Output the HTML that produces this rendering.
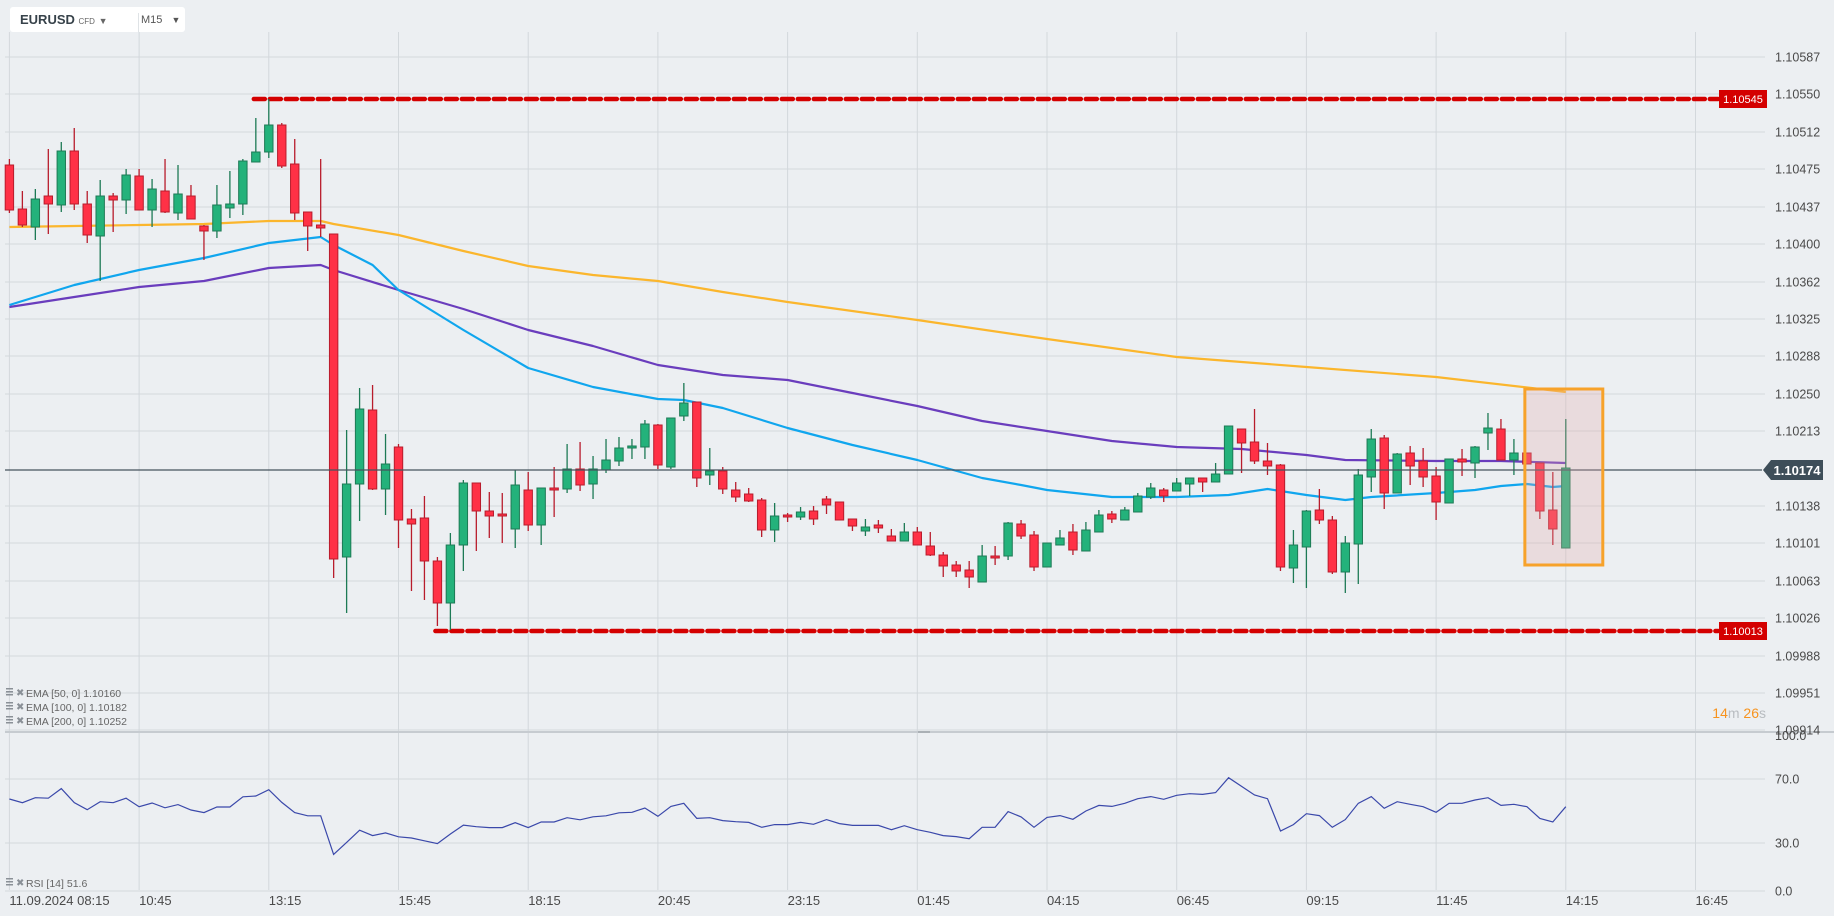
<!DOCTYPE html>
<html><head><meta charset="utf-8">
<style>
html,body{margin:0;padding:0;background:#eceff2;width:1834px;height:916px;overflow:hidden;font-family:"Liberation Sans",sans-serif;}
#chart{position:absolute;left:0;top:0;}
.hdr{position:absolute;left:10px;top:7px;width:175px;height:25px;background:#fff;border-radius:3px;}
</style></head><body>
<svg id="chart" width="1834" height="916" xmlns="http://www.w3.org/2000/svg">
<g id="grid"></g>
<g id="levels"></g>
<g id="emas"></g>
<g id="candles"></g>
<g id="overlay"></g>
<g id="rsi"></g>
<g id="axes"></g>
</svg>
<div class="hdr">
  <span style="position:absolute;left:10px;top:5px;font-size:13px;font-weight:bold;color:#37424a;">EURUSD <span style="font-size:8px;font-weight:normal;color:#666;">CFD</span> <span style="font-size:9px;color:#666;">▼</span></span>
  <div style="position:absolute;left:128px;top:6px;width:1px;height:19px;background:#dfe3e6;"></div>
  <span style="position:absolute;left:131px;top:7px;font-size:11px;color:#555;">M15 <span style="font-size:9px;margin-left:6px;">▼</span></span>
</div>
<script>
const categoriesStart = "08:15";
const opens=[110479,110435,110417,110448,110439,110493,110440,110408,110448,110444,110468,110434,110453,110431,110448,110418,110413,110436,110440,110482,110492,110519,110480,110432,110419,110410,110087,110160,110234,110155,110197,110125,110126,110083,110041,110099,110161,110133,110130,110115,110154,110119,110156,110155,110175,110160,110174,110183,110196,110197,110219,110177,110228,110242,110169,110173,110154,110150,110144,110114,110129,110127,110133,110145,110142,110125,110113,110119,110108,110103,110112,110098,110089,110079,110074,110062,110088,110088,110120,110109,110077,110099,110112,110093,110112,110130,110124,110132,110147,110154,110153,110160,110166,110162,110170,110215,110202,110183,110179,110076,110097,110134,110124,110072,110100,110167,110206,110151,110191,110183,110168,110141,110185,110181,110211,110215,110184,110191,110181,110134,110096];
const highs=[110485,110453,110455,110495,110502,110516,110453,110464,110451,110475,110475,110465,110485,110479,110459,110419,110459,110473,110485,110526,110545,110521,110505,110432,110485,110410,110214,110256,110259,110210,110200,110135,110148,110087,110111,110164,110161,110152,110151,110174,110172,110156,110177,110200,110202,110188,110205,110207,110205,110224,110220,110226,110261,110242,110196,110177,110162,110156,110146,110141,110131,110137,110138,110148,110142,110125,110125,110124,110115,110121,110117,110112,110092,110083,110083,110099,110098,110122,110124,110113,110101,110114,110120,110122,110134,110133,110137,110151,110161,110156,110166,110166,110166,110181,110218,110215,110235,110201,110180,110114,110134,110155,110128,110108,110175,110215,110209,110191,110198,110196,110177,110185,110195,110198,110231,110225,110205,110191,110181,110172,110225];
const lows=[110431,110417,110404,110410,110432,110434,110401,110363,110412,110430,110434,110417,110431,110424,110425,110384,110406,110426,110429,110482,110486,110476,110424,110393,110407,110066,110031,110123,110154,110129,110096,110053,110044,110018,110014,110073,110093,110106,110101,110096,110113,110099,110127,110151,110153,110145,110171,110178,110185,110185,110175,110175,110223,110157,110159,110150,110142,110142,110107,110102,110122,110124,110119,110130,110124,110113,110108,110111,110103,110103,110099,110088,110067,110067,110056,110062,110079,110084,110105,110073,110077,110099,110089,110093,110112,110121,110124,110132,110145,110142,110153,110148,110152,110162,110170,110171,110180,110169,110073,110061,110056,110120,110070,110051,110060,110152,110135,110151,110159,110157,110124,110141,110168,110166,110194,110184,110169,110180,110125,110099,110096];
const closes=[110434,110419,110445,110440,110493,110440,110409,110448,110444,110469,110434,110455,110432,110450,110425,110413,110439,110440,110483,110492,110519,110478,110431,110418,110416,110085,110160,110235,110155,110180,110124,110120,110083,110041,110099,110161,110133,110128,110128,110159,110119,110156,110154,110175,110159,110175,110184,110196,110198,110220,110179,110226,110241,110166,110173,110155,110147,110143,110114,110128,110127,110132,110125,110139,110124,110118,110117,110116,110103,110112,110099,110089,110078,110073,110067,110088,110086,110121,110108,110077,110101,110106,110094,110114,110129,110125,110134,110148,110156,110148,110161,110166,110162,110170,110218,110201,110183,110178,110077,110099,110133,110124,110072,110101,110169,110205,110151,110190,110178,110167,110142,110185,110182,110197,110216,110184,110191,110180,110133,110115,110176];
const ema200Idx=[0,5,10,15,20,24,25,30,35,40,45,50,55,60,70,80,90,100,110,120];
const ema200Vals=[110417,110418,110419,110420,110423,110423,110420,110409,110393,110378,110369,110363,110352,110342,110324,110305,110287,110277,110267,110252];
const ema50Idx=[0,5,10,15,20,24,25,28,30,35,40,45,50,52,55,60,65,70,75,78,80,85,90,94,97,100,103,105,110,113,115,117,119,120];
const ema50Vals=[110339,110359,110374,110386,110401,110407,110399,110379,110354,110314,110276,110257,110245,110244,110236,110216,110199,110184,110166,110159,110154,110147,110147,110149,110155,110149,110144,110147,110151,110154,110158,110160,110157,110158];
const ema100Idx=[0,5,10,15,20,24,25,30,35,40,45,50,55,60,65,70,75,80,85,90,95,100,103,110,115,120];
const ema100Vals=[110337,110347,110357,110363,110376,110379,110374,110354,110335,110314,110298,110279,110269,110264,110251,110238,110223,110213,110203,110197,110195,110189,110184,110183,110183,110181];
const rsiVals=[57.5,55.2,58.3,58,64,55.2,50.8,55.8,55.2,58,52.7,55,52,54,50.6,49,52.5,52.5,58.9,59.4,63.3,55.4,49,47,47,22.9,30.4,38,34.6,36.3,33.9,33.1,31.4,29.6,35.6,41.2,40.2,39.6,39.6,42.7,39.6,43.1,43.1,45.8,44.5,46.4,47,48.9,
49.2,51.9,46.7,52.9,54.8,45.4,45.8,44,43.3,42.9,39.8,41.5,41.5,42.9,41.7,44.6,42.1,41,41,41,38.3,40.8,38.3,36.7,34.6,34,32.7,39.8,39.8,49.6,46.3,39.8,46,47.1,44.8,50,53.5,52.9,54.8,
57.7,59,57.3,59.8,60.8,60.4,61.5,70.8,65.4,60,57.7,37.5,41.5,48.3,47.1,39.8,44.6,54.8,59,51.7,55.8,54.2,52.7,49.2,54.8,54.8,56.9,58.3,53.5,54.2,52.7,45.4,43.1,52.7];
const priceTicks=["1.10587","1.10550","1.10512","1.10475","1.10437","1.10400","1.10362","1.10325","1.10288","1.10250","1.10213","1.10138","1.10101","1.10063","1.10026","1.09988","1.09951","1.09914"];
const timeTicks=["11.09.2024  08:15","10:45","13:15","15:45","18:15","20:45","23:15","01:45","04:15","06:45","09:15","11:45","14:15","16:45"];
const rsiTicks=[100,70,30,0];
const resistance=110545, support=110013, lastPrice=110174;
const resistanceStart=19, supportStart=33;
const boxStart=118, boxEnd=120, boxHigh=110252, boxLow=110076;

const NS="http://www.w3.org/2000/svg";
function X(i){return 9.4+i*12.97;}
function Y(p){return 470+(lastPrice-p)*1.0;}
function RY(v){return 891-v*1.6;}
function mk(tag,attrs,parent){const e=document.createElementNS(NS,tag);for(const k in attrs)e.setAttribute(k,attrs[k]);parent.appendChild(e);return e;}
const G=id=>document.getElementById(id);
const grid=G('grid'),axes=G('axes'),cg=G('candles'),eg=G('emas'),lv=G('levels'),ov=G('overlay'),rg=G('rsi');
const PR=1765;
priceTicks.forEach(t=>{const p=Math.round(parseFloat(t)*1e5);const y=Y(p);
 const l=mk('line',{x1:5,x2:PR,y1:y,y2:y,stroke:'#d3d8dc','stroke-width':1},grid);
 
 
 const tx=mk('text',{x:1775,y:y+4.5,'font-size':12.5,fill:'#4a4a4a'},axes);tx.textContent=t;
 
 
});
timeTicks.forEach((t,k)=>{const x=X(k*10);
 const l=mk('line',{x1:x,x2:x,y1:32,y2:890,stroke:'#d3d8dc','stroke-width':1},grid);
 
 
 const tx=mk('text',{x:x,y:905,'font-size':13,fill:'#4a4a4a','xml:space':'preserve'},axes);tx.textContent=t;
 
 
});
rsiTicks.forEach(v=>{const y=RY(v);
 if(v!==100){const l=mk('line',{x1:5,x2:PR,y1:y,y2:y,stroke:'#d3d8dc','stroke-width':1},grid);
 
 }
 const tx=mk('text',{x:1775,y:(v===100?y+9:y+4.5),'font-size':12.5,fill:'#4a4a4a'},axes);tx.textContent=v.toFixed(1);
 
 
});
const sep=mk('line',{x1:5,x2:1834,y1:732,y2:732,stroke:'#c6cbd0','stroke-width':2},grid);


mk('rect',{x:918,y:731,width:12,height:2,fill:'#aab0b5'},grid);
function level(p,start,name){const y=Y(p);
 const l=mk('line',{x1:X(start)-2,x2:1718,y1:y,y2:y,stroke:'#d40000','stroke-width':4.5,'stroke-dasharray':'11 5','stroke-linecap':'round'},lv);
 
 
 const r=mk('rect',{x:1719,y:y-9,width:48,height:18,fill:'#d40000'},lv);
 
 
 const t=mk('text',{x:1743,y:y+4,'font-size':11,fill:'#fff','text-anchor':'middle'},lv);t.textContent=(p/1e5).toFixed(5);
 
 
}
level(resistance,resistanceStart,'resistance');
level(support,supportStart,'support');
function emaLine(idx,vals,color,name){const d=idx.map((i,k)=>(k?'L':'M')+X(i).toFixed(1)+' '+Y(vals[k]).toFixed(1)).join(' ');
 const p=mk('path',{d:d,fill:'none',stroke:color,'stroke-width':2.2,'stroke-linejoin':'round'},eg);
 
 }
emaLine(ema200Idx,ema200Vals,'#fbb62d','ema-200-line');
emaLine(ema100Idx,ema100Vals,'#6a3dbd','ema-100-line');
emaLine(ema50Idx,ema50Vals,'#10a6ee','ema-50-line');
opens.forEach((o,i)=>{const c=closes[i],h=highs[i],l=lows[i];const up=c>=o;const x=X(i);
 const col=up?'#1d7a55':'#b81c2c',fill=up?'#24b27b':'#ff3146';
 const g=mk('g',{},cg);
 
 
 mk('line',{x1:x,x2:x,y1:Y(h),y2:Y(l),stroke:col,'stroke-width':1.3},g);
 const top=Y(Math.max(o,c)),bh=Math.max(1.5,Math.abs(Y(o)-Y(c)));
 mk('rect',{x:x-4.2,y:top,width:8.4,height:bh,fill:fill,stroke:col,'stroke-width':1},g);
});
const ly=Y(lastPrice);
const lpl=mk('line',{x1:5,x2:1762,y1:ly,y2:ly,stroke:'#45535e','stroke-width':1.3},ov);


const lpb=mk('path',{d:`M1763 ${ly} L1771 ${ly-10} L1823 ${ly-10} L1823 ${ly+10} L1771 ${ly+10} Z`,fill:'#3e4e59'},ov);


const lpt=mk('text',{x:1797,y:ly+5,'font-size':13,'font-weight':'bold',fill:'#fff','text-anchor':'middle'},ov);lpt.textContent=(lastPrice/1e5).toFixed(5);


const bx=mk('rect',{x:X(boxStart)-15,y:Y(boxHigh)-3,width:X(boxEnd)-X(boxStart)+52,height:Y(boxLow)-Y(boxHigh),fill:'rgba(225,170,170,0.28)',stroke:'#f7a22a','stroke-width':3},ov);


const tm=mk('text',{x:1766,y:718,'font-size':14,'text-anchor':'end'},ov);
tm.innerHTML='<tspan fill="#f7931e">14</tspan><tspan fill="#b8bcc0">m </tspan><tspan fill="#f7931e">26</tspan><tspan fill="#b8bcc0">s</tspan>';


function legend(y,txt,name){const g=mk('g',{},ov);
 
 
 mk('rect',{x:6,y:y-8,width:7,height:1.5,fill:'#8a9097'},g);mk('rect',{x:6,y:y-5,width:7,height:1.5,fill:'#8a9097'},g);mk('rect',{x:6,y:y-2,width:7,height:1.5,fill:'#8a9097'},g);
 const x=mk('text',{x:16,y:y,'font-size':10,fill:'#8a9097'},g);x.textContent='✖';
 const t=mk('text',{x:26,y:y+1,'font-size':10.5,fill:'#666'},g);t.textContent=txt;}
legend(696,'EMA [50,  0] 1.10160','legend-ema-50');
legend(710,'EMA [100,  0] 1.10182','legend-ema-100');
legend(724,'EMA [200,  0] 1.10252','legend-ema-200');
legend(886,'RSI  [14]  51.6','legend-rsi');
const rd=rsiVals.map((v,i)=>(i?'L':'M')+X(i).toFixed(1)+' '+RY(v).toFixed(1)).join(' ');
const rl=mk('path',{d:rd,fill:'none',stroke:'#3a48aa','stroke-width':1.2},rg);


</script>
</body></html>
